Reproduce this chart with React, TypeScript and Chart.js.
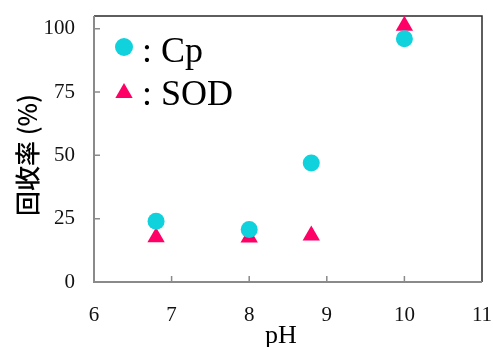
import React, { useEffect, useRef } from "react";
import { Chart, registerables } from "chart.js";

Chart.register(...registerables);

const xTicks = [6, 7, 8, 9, 10, 11];
const yTicks = [0, 25, 50, 75, 100];
const cpPH = [6.8, 8, 8.8, 10];
const cpValues = [24, 20.7, 47, 96];
const sodPH = [6.8, 8, 8.8, 10];
const sodValues = [17.7, 17.6, 18.4, 101.2];
const seriesNames = ["Cp", "SOD"];
const xTitle = "pH";
const yTitle = "回收率 (%)";

const CP_COLOR = "#0fd2dc";
const SOD_COLOR = "#ff0066";
const AXIS_GRAY = "#8a8a8a";
const SERIF = '"Liberation Serif", "Times New Roman", serif';

const framePlugin = {
  id: "frame",
  beforeDatasetsDraw(chart: any) {
    const { ctx, chartArea } = chart;
    const { left, right, top, bottom } = chartArea;
    const xs = chart.scales.x;
    const ys = chart.scales.y;
    ctx.save();
    ctx.strokeStyle = "#2a2a2a";
    ctx.lineWidth = 1.5;
    ctx.beginPath();
    ctx.moveTo(left, top);
    ctx.lineTo(right, top);
    ctx.lineTo(right, bottom);
    ctx.stroke();
    ctx.strokeStyle = AXIS_GRAY;
    ctx.lineWidth = 2;
    ctx.beginPath();
    ctx.moveTo(left, top);
    ctx.lineTo(left, bottom);
    ctx.lineTo(right, bottom);
    ctx.stroke();
    ctx.lineWidth = 1.5;
    ctx.beginPath();
    xTicks.slice(1, -1).forEach((v) => {
      const px = xs.getPixelForValue(v);
      ctx.moveTo(px, bottom);
      ctx.lineTo(px, bottom - 6);
    });
    yTicks.slice(1).forEach((v) => {
      const py = ys.getPixelForValue(v);
      ctx.moveTo(left, py);
      ctx.lineTo(left + 6, py);
    });
    ctx.stroke();
    ctx.restore();
  },
  afterDraw(chart: any) {
    const { ctx, chartArea } = chart;
    ctx.save();
    const lx = chartArea.left + 30;
    const ly1 = chartArea.top + 31;
    const ly2 = chartArea.top + 77;
    ctx.fillStyle = CP_COLOR;
    ctx.beginPath();
    ctx.arc(lx, ly1, 9, 0, Math.PI * 2);
    ctx.fill();
    ctx.fillStyle = SOD_COLOR;
    const r = 10;
    ctx.beginPath();
    ctx.moveTo(lx, ly2 - r);
    ctx.lineTo(lx + r * Math.sin((2 * Math.PI) / 3), ly2 - r * Math.cos((2 * Math.PI) / 3));
    ctx.lineTo(lx + r * Math.sin((4 * Math.PI) / 3), ly2 - r * Math.cos((4 * Math.PI) / 3));
    ctx.closePath();
    ctx.fill();
    ctx.fillStyle = "#000";
    ctx.font = `36px ${SERIF}`;
    ctx.textAlign = "left";
    ctx.textBaseline = "alphabetic";
    ctx.fillText(": " + seriesNames[0], lx + 18, chartArea.top + 46);
    ctx.fillText(": " + seriesNames[1], lx + 18, chartArea.top + 89);
    ctx.font = `26px ${SERIF}`;
    ctx.textAlign = "center";
    ctx.fillText(xTitle, 281, 343);
    ctx.translate(27, 155);
    ctx.rotate(-Math.PI / 2);
    ctx.font = `500 25px "Noto Sans CJK JP", ${SERIF}`;
    ctx.textAlign = "center";
    ctx.textBaseline = "middle";
    ctx.fillText(yTitle, 0, 0);
    ctx.restore();
  },
};

export default function App() {
  const canvasRef = useRef<HTMLCanvasElement | null>(null);

  useEffect(() => {
    if (!canvasRef.current) return;
    const chart = new Chart(canvasRef.current, {
      type: "scatter",
      data: {
        datasets: [
          {
            label: seriesNames[0],
            data: cpPH.map((x, i) => ({ x, y: cpValues[i] })),
            pointStyle: "circle",
            pointRadius: 8.5,
            pointHoverRadius: 8.5,
            backgroundColor: CP_COLOR,
            borderWidth: 0,
            clip: false,
          },
          {
            label: seriesNames[1],
            data: sodPH.map((x, i) => ({ x, y: sodValues[i] })),
            pointStyle: "triangle",
            pointRadius: 10,
            pointHoverRadius: 10,
            backgroundColor: SOD_COLOR,
            borderWidth: 0,
            clip: false,
          },
        ],
      },
      options: {
        responsive: false,
        animation: false,
        events: [],
        layout: { padding: { top: 16, right: 11, left: 0, bottom: 0 } },
        plugins: {
          legend: { display: false },
          tooltip: { enabled: false },
        },
        scales: {
          x: {
            type: "linear",
            min: 6,
            max: 11,
            grid: { display: false, drawTicks: false },
            border: { display: false },
            afterBuildTicks: (s: any) => {
              s.ticks = xTicks.map((v) => ({ value: v }));
            },
            afterFit: (s: any) => {
              s.height = 65;
              s.paddingLeft = 0;
              s.paddingRight = 0;
            },
            ticks: {
              padding: 21,
              color: "#111",
              font: { family: SERIF, size: 21 },
              maxRotation: 0,
              autoSkip: false,
            },
          },
          y: {
            type: "linear",
            min: 0,
            max: 105,
            grid: { display: false, drawTicks: false },
            border: { display: false },
            afterBuildTicks: (s: any) => {
              s.ticks = yTicks.map((v) => ({ value: v }));
            },
            afterFit: (s: any) => {
              s.width = 94;
              s.paddingTop = 0;
              s.paddingBottom = 0;
            },
            ticks: {
              padding: 19,
              color: "#111",
              font: { family: SERIF, size: 21 },
              autoSkip: false,
            },
          },
        },
      },
      plugins: [framePlugin],
    });
    return () => chart.destroy();
  }, []);

  return (
    <div style={{ position: "fixed", left: 0, top: 0, width: 493, height: 347, background: "#fff" }}>
      <canvas ref={canvasRef} width={493} height={347} />
    </div>
  );
}
